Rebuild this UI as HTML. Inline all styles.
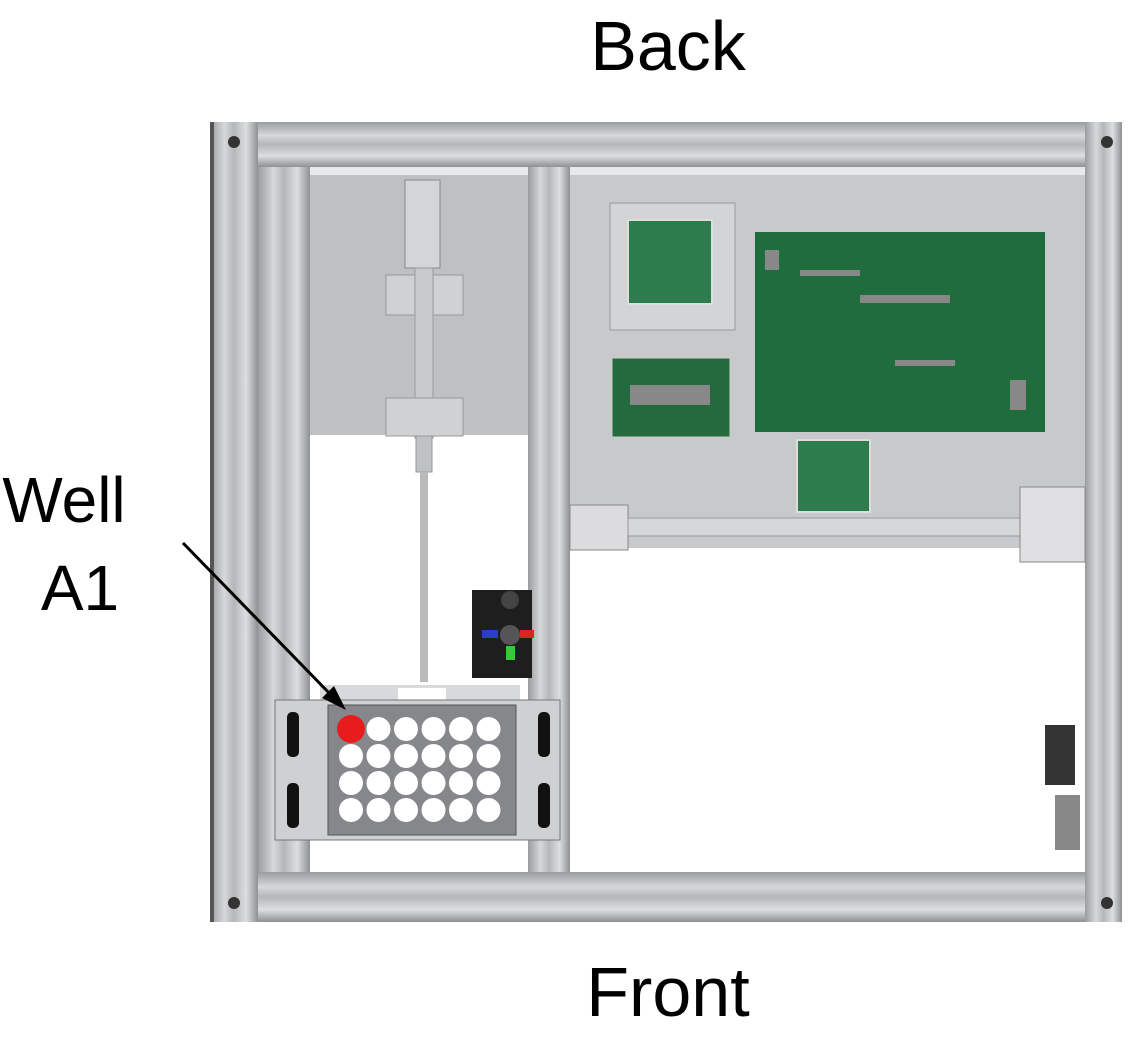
<!DOCTYPE html>
<html><head><meta charset="utf-8"><style>
html,body{margin:0;padding:0;background:#fff;width:1131px;height:1043px;overflow:hidden}
svg{display:block}
text{font-family:"Liberation Sans",sans-serif;fill:#000}
</style></head><body>
<svg width="1131" height="1043" viewBox="0 0 1131 1043">
<defs>
<linearGradient id="railH" x1="0" y1="0" x2="0" y2="1"><stop offset="0" stop-color="#9a9c9e"/><stop offset=".3" stop-color="#d6d8da"/><stop offset=".5" stop-color="#b4b6b8"/><stop offset=".75" stop-color="#dcdedf"/><stop offset="1" stop-color="#8e9092"/></linearGradient>
<linearGradient id="railV" x1="0" y1="0" x2="1" y2="0"><stop offset="0" stop-color="#9a9c9e"/><stop offset=".3" stop-color="#d6d8da"/><stop offset=".5" stop-color="#b4b6b8"/><stop offset=".75" stop-color="#dcdedf"/><stop offset="1" stop-color="#8e9092"/></linearGradient>
</defs>
<text x="668" y="70" font-size="70" text-anchor="middle">Back</text>
<text x="668" y="1016" font-size="70" text-anchor="middle">Front</text>
<g><text x="64" y="522" font-size="64" text-anchor="middle">Well</text><text x="80" y="610" font-size="64" text-anchor="middle">A1</text></g>

<g>
<rect x="210" y="122" width="912" height="800" fill="#e8e9ea"/>
<rect x="310" y="175" width="218" height="260" fill="#bfc0c2"/>
<rect x="310" y="435" width="218" height="437" fill="#fff"/>
<rect x="570" y="175" width="515" height="373" fill="#c8c9cb"/>
<rect x="570" y="548" width="515" height="324" fill="#fff"/>
<rect x="210" y="122" width="912" height="45" fill="url(#railH)"/>
<rect x="210" y="872" width="912" height="50" fill="url(#railH)"/>
<rect x="210" y="122" width="48" height="800" fill="url(#railV)"/>
<rect x="1085" y="122" width="37" height="800" fill="url(#railV)"/>
<rect x="258" y="167" width="52" height="705" fill="url(#railV)"/>
<rect x="528" y="167" width="42" height="705" fill="url(#railV)"/>
<rect x="210" y="122" width="4" height="800" fill="#555"/>
<g fill="#333"><circle cx="234" cy="142" r="6"/><circle cx="1107" cy="142" r="6"/><circle cx="234" cy="903" r="6"/><circle cx="1107" cy="903" r="6"/></g>
</g>

<g>
<rect x="405" y="180" width="35" height="88" fill="#d4d5d7" stroke="#888"/>
<rect x="386" y="275" width="77" height="40" fill="#d0d1d3" stroke="#999"/>
<rect x="415" y="268" width="18" height="170" fill="#c9cacc" stroke="#999"/>
<rect x="386" y="398" width="77" height="38" fill="#d0d1d3" stroke="#999"/>
<rect x="416" y="436" width="16" height="36" fill="#c0c1c3" stroke="#999"/>
<rect x="420" y="472" width="8" height="210" fill="#b9babc"/>
</g>

<g>
<rect x="472" y="590" width="60" height="88" fill="#1e1e1e"/>
<circle cx="510" cy="600" r="9" fill="#444"/>
<circle cx="510" cy="635" r="10" fill="#555"/>
<rect x="482" y="630" width="16" height="8" fill="#2a3ecc"/>
<rect x="520" y="630" width="14" height="8" fill="#d22"/>
<rect x="506" y="646" width="9" height="14" fill="#3c3"/>
</g>

<g>
<rect x="610" y="203" width="125" height="127" fill="#d3d4d6" stroke="#999"/>
<rect x="628" y="220" width="84" height="84" fill="#2d7d4c" stroke="#ddd" stroke-width="2"/>
<rect x="612" y="358" width="118" height="79" fill="#236b3e" stroke="#ccc"/>
<rect x="755" y="232" width="290" height="200" fill="#1f6d3d"/>
<rect x="797" y="440" width="73" height="72" fill="#2d7d4c" stroke="#ddd" stroke-width="2"/>
<g fill="#888"><rect x="630" y="385" width="80" height="20"/><rect x="800" y="270" width="60" height="6"/><rect x="860" y="295" width="90" height="8"/><rect x="895" y="360" width="60" height="6"/><rect x="1010" y="380" width="16" height="30"/><rect x="765" y="250" width="14" height="20"/></g>
</g>

<g>
<rect x="570" y="505" width="58" height="45" fill="#dcdcde" stroke="#888"/>
<rect x="628" y="518" width="400" height="18" fill="#d6d7d9" stroke="#999"/>
<rect x="1020" y="487" width="65" height="75" fill="#e0e0e2" stroke="#888"/>
<rect x="1045" y="725" width="30" height="60" fill="#333"/>
<rect x="1055" y="795" width="25" height="55" fill="#888"/>
</g>

<g>
<rect x="320" y="685" width="200" height="20" fill="#d8d9db"/>
<rect x="398" y="688" width="48" height="14" fill="#fff"/>
<rect x="275" y="700" width="285" height="140" fill="#cfd0d2" stroke="#777"/>
<g fill="#111"><rect x="287" y="712" width="12" height="45" rx="5"/><rect x="287" y="783" width="12" height="45" rx="5"/><rect x="538" y="712" width="12" height="45" rx="5"/><rect x="538" y="783" width="12" height="45" rx="5"/></g>
<rect x="328" y="705" width="188" height="130" fill="#85878a" stroke="#555"/>
<g id="wells" fill="#fff"></g>
<circle cx="351" cy="729" r="14" fill="#e81c1c"/>
</g>

<g>
<line x1="183" y1="543" x2="333" y2="697" stroke="#000" stroke-width="3"/>
<polygon points="346,710 322,698 334,686" fill="#000"/>
</g>
</svg>
<script>
const g=document.getElementById('wells');
for(let r=0;r<4;r++)for(let c=0;c<6;c++){if(r===0&&c===0)continue;
const e=document.createElementNS('http://www.w3.org/2000/svg','circle');
e.setAttribute('cx',351+c*27.5);e.setAttribute('cy',729+r*27);e.setAttribute('r',12);


g.appendChild(e);}
</script>
</body></html>
